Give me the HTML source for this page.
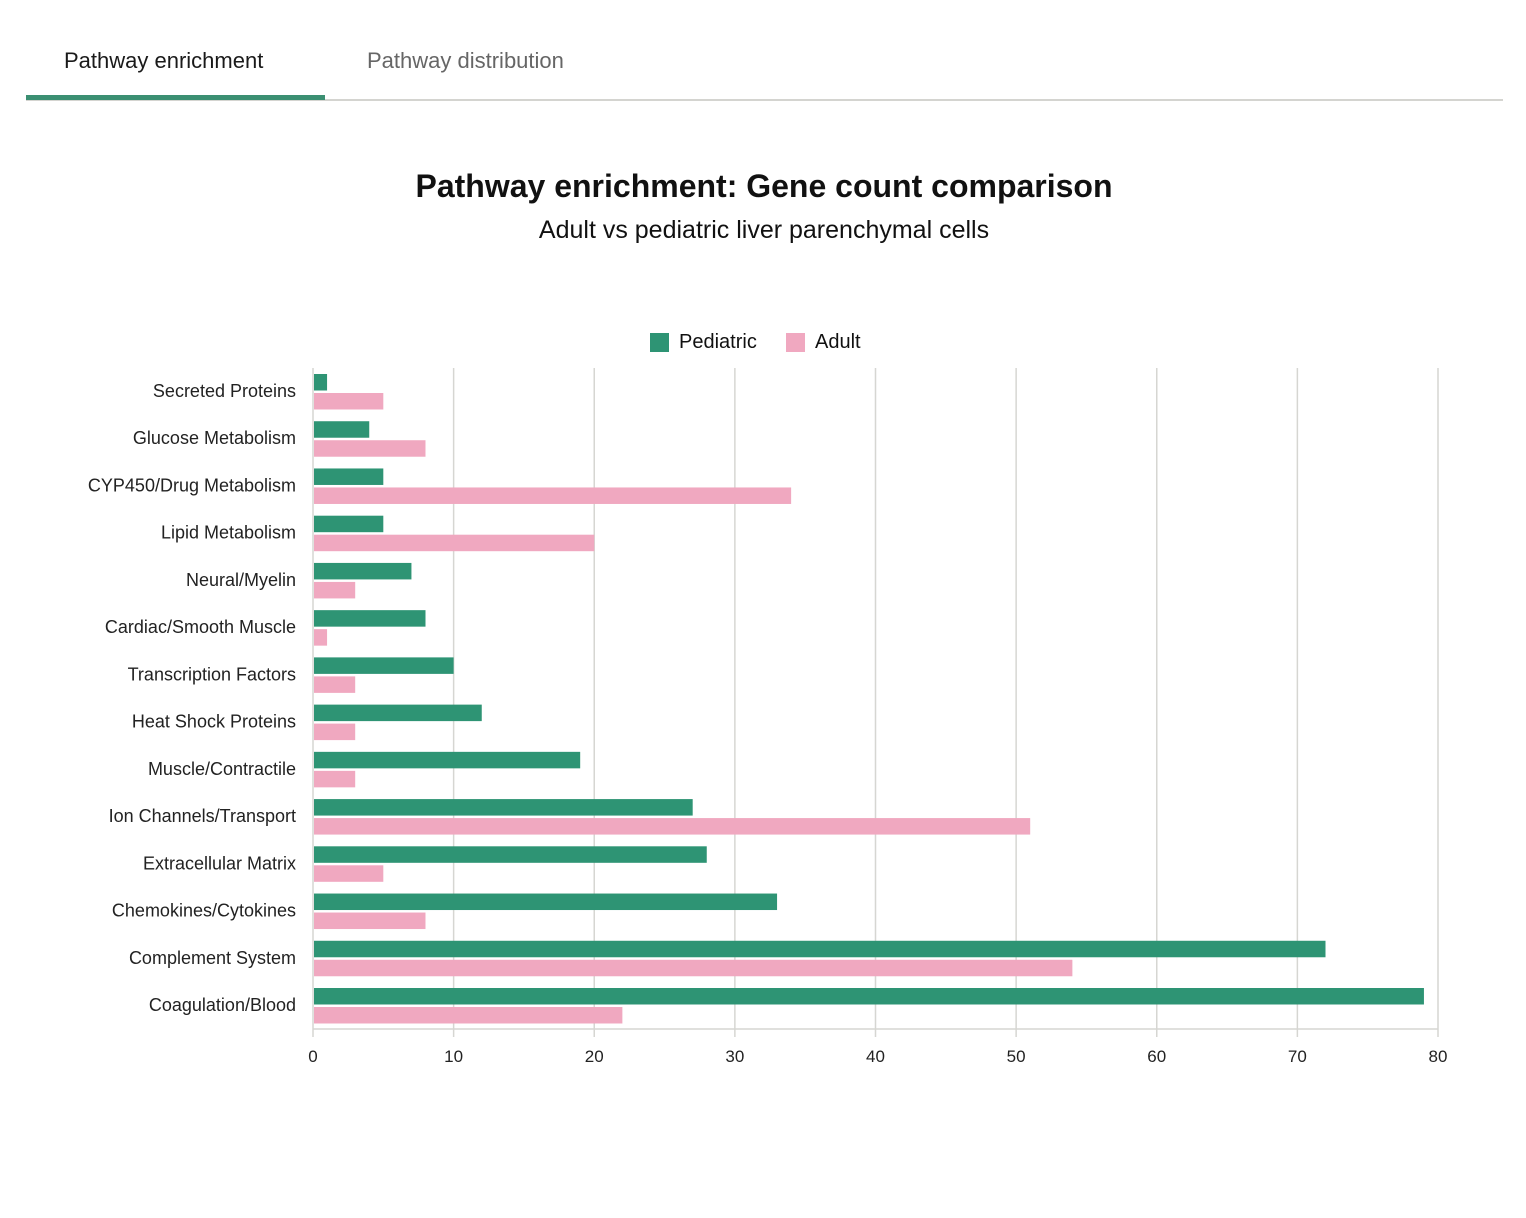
<!DOCTYPE html>
<html><head><meta charset="utf-8"><style>
body{margin:0;background:#fff;width:1526px;height:1218px;overflow:hidden;font-family:"Liberation Sans",sans-serif;}
.tab{position:absolute;top:48px;font-size:22px;font-weight:500;}
</style></head><body>
<div style="position:absolute;left:26px;top:99px;width:1477px;height:2px;background:#d4d4d0"></div>
<div class="tab" style="left:64px;color:#1a1a1a">Pathway enrichment</div>
<div style="position:absolute;left:26px;top:95px;width:299px;height:5px;background:#3b8f72"></div>
<div class="tab" style="left:367px;color:#666">Pathway distribution</div>
<svg width="1526" height="1218" style="position:absolute;left:0;top:0">
<text x="764" y="197" text-anchor="middle" font-size="32" font-weight="bold" fill="#111">Pathway enrichment: Gene count comparison</text>
<text x="764" y="238" text-anchor="middle" font-size="25" fill="#111">Adult vs pediatric liver parenchymal cells</text>
<rect x="650" y="333" width="19" height="19" fill="#2e9474"/>
<text x="679" y="348" font-size="20" fill="#111">Pediatric</text>
<rect x="786" y="333" width="19" height="19" fill="#f0a8c0"/>
<text x="815" y="348" font-size="20" fill="#111">Adult</text>
<g id="g"></g>
</svg>
<script>
const categories=["Secreted Proteins","Glucose Metabolism","CYP450/Drug Metabolism","Lipid Metabolism","Neural/Myelin","Cardiac/Smooth Muscle","Transcription Factors","Heat Shock Proteins","Muscle/Contractile","Ion Channels/Transport","Extracellular Matrix","Chemokines/Cytokines","Complement System","Coagulation/Blood"];
const pediatric=[1,4,5,5,7,8,10,12,19,27,28,33,72,79];
const adult=[5,8,34,20,3,1,3,3,3,51,5,8,54,22];
const ticks=[0,10,20,30,40,50,60,70,80];
const NS="http://www.w3.org/2000/svg",g=document.getElementById('g');
const x0=313,x1=1438,xmax=80,yTop=368,yBot=1029;
const xs=v=>x0+(x1-x0)*v/xmax;
const step=(988-374)/(categories.length-1);
const ys=i=>374+i*step;
function mk(t,a){const e=document.createElementNS(NS,t);for(const k in a)e.setAttribute(k,a[k]);g.appendChild(e);return e;}
ticks.forEach(t=>{
 const l=mk('line',{x1:xs(t),x2:xs(t),y1:yTop,y2:yBot+8,stroke:'#d6d6d2','stroke-width':1.5});
 
 
 const tx=mk('text',{x:xs(t),y:1062,'text-anchor':'middle','font-size':17,fill:'#222'});tx.textContent=t;
 
 
});
const ax=mk('line',{x1:x0,x2:x1,y1:yBot,y2:yBot,stroke:'#d6d6d2','stroke-width':1.5});


categories.forEach((c,i)=>{
 const y=ys(i);
 const b1=mk('rect',{x:x0+1,y:y,width:Math.max(0,xs(pediatric[i])-x0-1),height:16.5,fill:'#2e9474'});
 
 
 const b2=mk('rect',{x:x0+1,y:y+19,width:Math.max(0,xs(adult[i])-x0-1),height:16.5,fill:'#f0a8c0'});
 
 
 const t=mk('text',{x:296,y:y+23,'text-anchor':'end','font-size':18,fill:'#222'});t.textContent=c;
 
 
});
</script>
</body></html>
